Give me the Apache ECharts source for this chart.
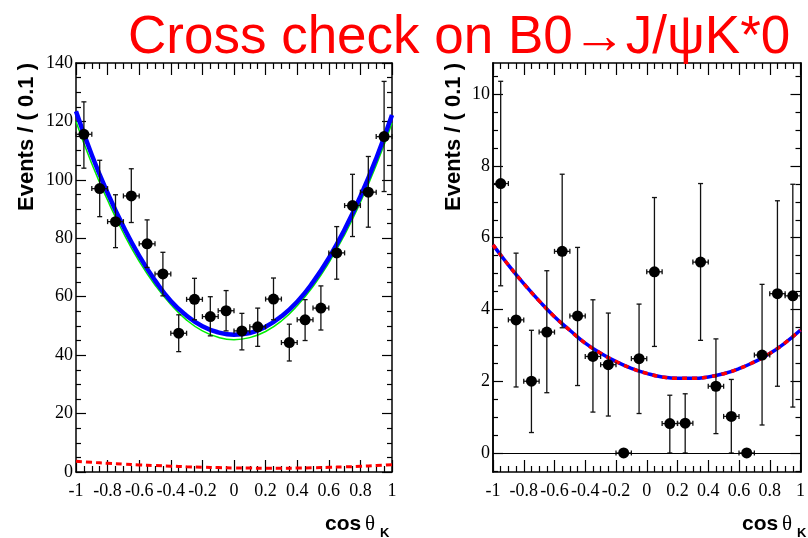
<!DOCTYPE html>
<html>
<head>
<meta charset="utf-8">
<script src="https://cdn.jsdelivr.net/npm/echarts@6/dist/echarts.min.js"></script>
<style>
  html, body { margin: 0; padding: 0; background: #fff; }
  #chart { width: 808px; height: 538px; }
</style>
</head>
<body>
<div id="chart"></div>
<script>
// Bin centres of cos(theta_K), bin width 0.1
const binCenters = [-0.95, -0.85, -0.75, -0.65, -0.55, -0.45, -0.35, -0.25, -0.15, -0.05,
                     0.05,  0.15,  0.25,  0.35,  0.45,  0.55,  0.65,  0.75,  0.85,  0.95];
const binHalf = 0.05;

// Left pad: B0 -> J/psi K*0 candidates (events, lower and upper error-bar ends)
const leftEvents = [115.6, 97.0, 85.7, 94.5, 78.1, 67.8, 47.5, 59.1, 53.2, 55.2,
                    48.3, 49.7, 59.2, 44.3, 52.1, 56.1, 75.0, 91.2, 95.8, 114.8];
const leftLow    = [104.0, 87.4, 76.8, 85.4, 70.0, 60.3, 41.2, 52.1, 46.6, 48.3,
                    41.8, 43.0, 52.1, 38.0, 45.0, 48.6, 66.0, 80.6, 83.8, 96.0];
const leftHigh   = [126.7, 106.7, 94.9, 103.8, 86.3, 75.2, 53.8, 66.3, 60.0, 62.1,
                    54.3, 56.1, 66.4, 50.6, 59.0, 63.7, 84.0, 101.9, 108.0, 133.7];

// Fit curves sampled along cos(theta_K)
const curveX = [-1.0, -0.9, -0.8, -0.7, -0.6, -0.5, -0.4, -0.3, -0.2, -0.1, 0.0,
                 0.1,  0.2,  0.3,  0.4,  0.5,  0.6,  0.7,  0.8,  0.9, 1.0];
const leftTotal  = [123.5, 108.5, 95.5, 84.0, 74.0, 65.6, 58.5, 53.5, 49.9, 47.8, 47.0,
                    47.6, 49.7, 53.3, 58.3, 65.0, 73.2, 83.0, 94.3, 107.3, 122.2];
const leftSignal = [120.0, 105.5, 93.0, 81.8, 72.1, 64.0, 57.3, 52.0, 48.3, 46.1, 45.3,
                    46.0, 48.1, 51.7, 56.9, 63.5, 71.6, 81.2, 92.3, 105.0, 119.5];
const leftBkg    = [3.7, 3.3, 3.0, 2.7, 2.4, 2.2, 2.0, 1.8, 1.65, 1.5, 1.4,
                    1.35, 1.3, 1.3, 1.35, 1.45, 1.6, 1.75, 1.95, 2.2, 2.5];

// Right pad: events with lower and upper error-bar ends
const rightEvents = [7.51, 3.71, 2.00, 3.37, 5.62, 3.82, 2.69, 2.46, 0.00, 2.63,
                     5.05, 0.82, 0.83, 5.32, 1.86, 1.02, 0.00, 2.73, 4.44, 4.38];
const rightLow    = [4.66, 1.84, 0.57, 1.68, 3.49, 1.88, 1.14, 1.03, 0.00, 1.10,
                     2.97, 0.00, 0.00, 3.14, 0.54, 0.00, 0.00, 0.78, 1.86, 1.28];
const rightHigh   = [10.36, 5.57, 3.42, 5.08, 7.77, 5.73, 4.27, 3.90, 0.00, 4.15,
                     7.12, 1.61, 1.65, 7.51, 3.18, 2.05, 0.00, 4.70, 7.03, 7.49];
const rightFit    = [5.80, 5.24, 4.72, 4.24, 3.80, 3.42, 3.06, 2.78, 2.55, 2.36, 2.22,
                     2.12, 2.08, 2.08, 2.12, 2.21, 2.35, 2.54, 2.77, 3.07, 3.43];

// Axis tick values
const leftYMax = 140;
const rightYMin = -0.53, rightYMax = 10.87;
const rightYMajor = [0, 2, 4, 6, 8, 10];
const rightYMinor = [-0.5, 0.5, 1, 1.5, 2.5, 3, 3.5, 4.5, 5, 5.5, 6.5, 7, 7.5, 8.5, 9, 9.5, 10.5];

const titleText = 'Cross check on B0\u2192J/\u03c8K*0';
const yTitle = 'Events / ( 0.1 )';

const pair = (xs, ys) => xs.map((x, i) => [x, ys[i]]);
const errData = (vals, lo, hi) => binCenters.map((x, i) => [x, vals[i], lo[i], hi[i]]);

const LINE_W = 1.5;
const TICK_FONT = { fontFamily: 'Liberation Serif', fontSize: 18, color: '#000' };

function errorBarItem(params, api) {
  const x = api.value(0), y = api.value(1), lo = api.value(2), hi = api.value(3);
  const c = api.coord([x, y]);
  const l = api.coord([x - binHalf, y]);
  const r = api.coord([x + binHalf, y]);
  const cap = 2.5;
  const st = { stroke: '#111', lineWidth: 1.3 };
  const seg = (x1, y1, x2, y2) => ({ type: 'line', shape: { x1, y1, x2, y2 }, style: st });
  const kids = [
    seg(l[0], c[1], r[0], c[1]),
    seg(l[0], c[1] - cap, l[0], c[1] + cap),
    seg(r[0], c[1] - cap, r[0], c[1] + cap)
  ];
  if (hi > lo) {
    const t = api.coord([x, hi]);
    const b = api.coord([x, lo]);
    kids.push(seg(c[0], t[1], c[0], b[1]));
    kids.push(seg(c[0] - cap, t[1], c[0] + cap, t[1]));
    kids.push(seg(c[0] - cap, b[1], c[0] + cap, b[1]));
  }
  return { type: 'group', children: kids };
}

function xAxisPair(grid) {
  const base = {
    type: 'value', gridIndex: grid, min: -1, max: 1, interval: 0.2,
    splitLine: { show: false },
    axisLine: { show: true, onZero: false, lineStyle: { color: '#000', width: LINE_W } },
    axisTick: { show: true, inside: true, length: 12, lineStyle: { color: '#000', width: 1.2 } },
    minorTick: { show: true, splitNumber: 4, length: 6, lineStyle: { color: '#000', width: 1.2 } },
    minorSplitLine: { show: false }
  };
  return [
    Object.assign({}, base, { position: 'bottom',
      axisLabel: Object.assign({ show: true, margin: 10 }, TICK_FONT) }),
    Object.assign({}, base, { position: 'top', axisLabel: { show: false } })
  ];
}

function leftYAxes() {
  const base = {
    type: 'value', gridIndex: 0, min: 0, max: leftYMax, interval: 20,
    splitLine: { show: false },
    axisLine: { show: true, onZero: false, lineStyle: { color: '#000', width: LINE_W } },
    axisTick: { show: true, inside: true, length: 10, lineStyle: { color: '#000', width: 1.2 } },
    minorTick: { show: true, splitNumber: 4, length: 5, lineStyle: { color: '#000', width: 1.2 } },
    minorSplitLine: { show: false }
  };
  return [
    Object.assign({}, base, { position: 'left',
      axisLabel: Object.assign({ show: true, margin: 3 }, TICK_FONT) }),
    Object.assign({}, base, { position: 'right', axisLabel: { show: false } })
  ];
}

function rightYAxes() {
  const base = {
    type: 'value', gridIndex: 1, min: rightYMin, max: rightYMax,
    splitLine: { show: false },
    axisLine: { show: true, onZero: false, lineStyle: { color: '#000', width: LINE_W } }
  };
  const major = { show: true, inside: true, length: 10, customValues: rightYMajor,
                  lineStyle: { color: '#000', width: 1.2 } };
  const minor = { show: true, inside: true, length: 5, customValues: rightYMinor,
                  lineStyle: { color: '#000', width: 1.2 } };
  return [
    Object.assign({}, base, { position: 'left', axisTick: major,
      axisLabel: Object.assign({ show: true, margin: 3, customValues: rightYMajor }, TICK_FONT) }),
    Object.assign({}, base, { position: 'left', axisTick: minor, axisLabel: { show: false } }),
    Object.assign({}, base, { position: 'right', axisTick: major, axisLabel: { show: false } }),
    Object.assign({}, base, { position: 'right', axisTick: minor, axisLabel: { show: false } })
  ];
}

const chart = echarts.init(document.getElementById('chart'), null, { renderer: 'canvas' });

const DOT = { color: '#000', opacity: 1 };

const option = {
  animation: false,
  backgroundColor: '#fff',
  grid: [
    { left: 76, top: 63, width: 316, height: 409 },
    { left: 493, top: 63, width: 315, height: 409 }
  ],
  xAxis: [].concat(xAxisPair(0), xAxisPair(1)),
  yAxis: [].concat(leftYAxes(), rightYAxes()),
  series: [
    // left pad
    { type: 'line', name: 'signal', xAxisIndex: 0, yAxisIndex: 0, data: pair(curveX, leftSignal),
      smooth: true, showSymbol: false, lineStyle: { color: '#00ee00', width: 1.5 }, z: 2 },
    { type: 'line', name: 'total', xAxisIndex: 0, yAxisIndex: 0, data: pair(curveX, leftTotal),
      smooth: true, showSymbol: false, lineStyle: { color: '#0000ff', width: 4.5 }, z: 3 },
    { type: 'line', name: 'background', xAxisIndex: 0, yAxisIndex: 0, data: pair(curveX, leftBkg),
      smooth: true, showSymbol: false, lineStyle: { color: '#ff0000', width: 3, type: [6, 4] }, z: 3 },
    { type: 'custom', xAxisIndex: 0, yAxisIndex: 0, renderItem: errorBarItem,
      data: errData(leftEvents, leftLow, leftHigh), encode: { x: 0, y: [1, 2, 3] }, z: 4 },
    { type: 'scatter', xAxisIndex: 0, yAxisIndex: 0, data: pair(binCenters, leftEvents),
      symbol: 'circle', symbolSize: 11, itemStyle: DOT, z: 5 },

    // right pad
    { type: 'line', name: 'total', xAxisIndex: 2, yAxisIndex: 2, data: pair(curveX, rightFit),
      smooth: true, showSymbol: false, lineStyle: { color: '#0000ff', width: 3.5 }, z: 3 },
    { type: 'line', name: 'overlay', xAxisIndex: 2, yAxisIndex: 2, data: pair(curveX, rightFit),
      smooth: true, showSymbol: false, lineStyle: { color: '#ff0000', width: 3.5, type: [5, 5] }, z: 3 },
    { type: 'custom', xAxisIndex: 2, yAxisIndex: 2, renderItem: errorBarItem,
      data: errData(rightEvents, rightLow, rightHigh), encode: { x: 0, y: [1, 2, 3] }, z: 4 },
    { type: 'scatter', xAxisIndex: 2, yAxisIndex: 2, data: pair(binCenters, rightEvents),
      symbol: 'circle', symbolSize: 11, itemStyle: DOT, z: 5,
      markLine: { silent: true, symbol: 'none', label: { show: false },
        lineStyle: { color: '#000', width: 1, type: 'solid' }, data: [{ yAxis: 0 }] } }
  ],
  graphic: [
    { type: 'text', x: 128, y: 12, z: 100,
      style: { text: titleText, fill: '#ff0000', font: '53px "Liberation Sans"', verticalAlign: 'top' } },
    { type: 'text', x: 27, y: 137, rotation: Math.PI / 2,
      style: { text: yTitle, fill: '#000', font: 'bold 22px "Liberation Sans"', align: 'center', verticalAlign: 'middle' } },
    { type: 'text', x: 454, y: 137, rotation: Math.PI / 2,
      style: { text: yTitle, fill: '#000', font: 'bold 22px "Liberation Sans"', align: 'center', verticalAlign: 'middle' } },
    // x-axis titles: cos θ with subscript K
    { type: 'text', x: 325, y: 535,
      style: { text: 'cos', fill: '#000', font: 'bold 21px "Liberation Sans"', verticalAlign: 'bottom' } },
    { type: 'text', x: 365, y: 535,
      style: { text: '\u03b8', fill: '#000', font: '21px "Liberation Serif"', verticalAlign: 'bottom' } },
    { type: 'text', x: 380, y: 540,
      style: { text: 'K', fill: '#000', font: 'bold 13px "Liberation Sans"', verticalAlign: 'bottom' } },
    { type: 'text', x: 742, y: 535,
      style: { text: 'cos', fill: '#000', font: 'bold 21px "Liberation Sans"', verticalAlign: 'bottom' } },
    { type: 'text', x: 782, y: 535,
      style: { text: '\u03b8', fill: '#000', font: '21px "Liberation Serif"', verticalAlign: 'bottom' } },
    { type: 'text', x: 797, y: 540,
      style: { text: 'K', fill: '#000', font: 'bold 13px "Liberation Sans"', verticalAlign: 'bottom' } }
  ]
};

chart.setOption(option);
</script>
</body>
</html>
